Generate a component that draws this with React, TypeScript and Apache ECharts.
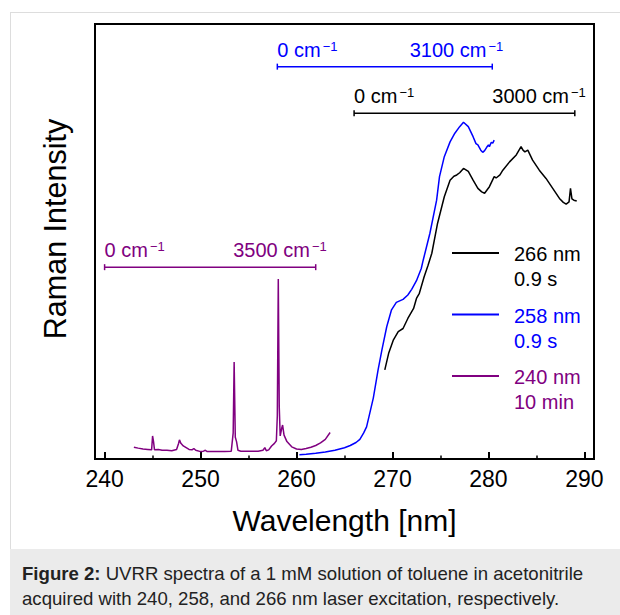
import React, { useEffect, useRef } from "react";
import * as echarts from "echarts";

// ---- data (wavelength nm, intensity arb. 0-100) ----
const spectrum240: number[][] = [
  [243.05, 2.7], [243.5, 2.5], [244.0, 2.3], [244.5, 2.2], [244.9, 2.1], [245.0, 5.3], [245.1, 4.0],
  [245.2, 2.1], [245.6, 2.2], [246.0, 2.0], [246.5, 2.0], [247.0, 1.9], [247.5, 2.2], [247.7, 3.5],
  [247.8, 4.4], [247.95, 3.6], [248.2, 3.0], [248.5, 2.6], [248.8, 2.2], [249.1, 2.1], [249.3, 2.4],
  [249.5, 2.0], [250.0, 1.7], [250.3, 1.8], [250.5, 2.0], [250.7, 1.7], [251.5, 1.7], [252.5, 1.7],
  [253.2, 1.8], [253.4, 6.0], [253.5, 22.3], [253.62, 5.0], [253.75, 4.0], [253.9, 2.0], [254.2, 1.8],
  [255.0, 1.8], [256.0, 1.8], [256.5, 2.0], [256.7, 2.6], [256.85, 1.9], [257.1, 2.1], [257.4, 3.0],
  [257.7, 3.6], [257.9, 4.2], [258.0, 10.0], [258.1, 41.4], [258.2, 12.0], [258.3, 5.3], [258.45, 7.0],
  [258.55, 7.8], [258.7, 5.5], [259.0, 4.0], [259.5, 2.8], [260.0, 2.3], [260.5, 2.2], [261.0, 2.4],
  [261.5, 2.7], [262.0, 3.1], [262.5, 3.7], [263.0, 4.5], [263.5, 6.1],
];

const spectrum258: number[][] = [
  [260.3, 1.0], [261.0, 1.1], [262.0, 1.3], [263.0, 1.6], [264.0, 2.0], [265.0, 2.6], [265.6, 3.1],
  [266.2, 3.8], [266.6, 4.5], [267.0, 6.0], [267.3, 7.4], [267.6, 10.2], [268.0, 14.0], [268.5, 20.5],
  [268.9, 25.1], [269.4, 30.4], [269.9, 34.3], [270.4, 36.0], [271.1, 36.7], [271.6, 37.7], [272.0, 39.0],
  [272.5, 41.0], [273.0, 43.8], [273.2, 45.7], [273.9, 51.9], [274.6, 59.5], [274.9, 64.9], [275.4, 69.5],
  [276.0, 72.9], [276.5, 74.9], [277.0, 76.4], [277.4, 77.4], [277.9, 76.4], [278.1, 75.5], [278.4, 74.1],
  [278.7, 72.5], [278.9, 72.2], [279.2, 71.0], [279.4, 70.5], [279.6, 70.9], [279.8, 71.6], [280.0, 72.2],
  [280.1, 71.8], [280.3, 72.8], [280.45, 72.6], [280.6, 73.3],
];

const spectrum266: number[][] = [
  [269.2, 20.5], [269.6, 24.3], [270.1, 27.4], [270.6, 29.3], [271.1, 30.0], [271.6, 32.3], [272.2, 34.6],
  [272.5, 36.9], [272.8, 38.1], [273.3, 41.9], [273.7, 44.5], [274.1, 47.3], [274.7, 54.2], [275.4, 60.3],
  [276.0, 64.1], [276.4, 65.0], [276.7, 65.3], [277.0, 65.8], [277.4, 66.8], [277.9, 66.1], [278.4, 64.1],
  [278.9, 62.2], [279.3, 61.4], [279.6, 61.1], [280.1, 62.6], [280.6, 64.9], [280.8, 64.6], [281.2, 65.3],
  [281.5, 66.4], [282.2, 68.3], [282.9, 69.9], [283.4, 71.8], [283.6, 71.0], [283.8, 70.6], [284.1, 71.0],
  [284.6, 68.7], [285.3, 66.4], [286.0, 64.5], [286.7, 62.2], [287.4, 59.9], [287.8, 59.0], [288.1, 58.6],
  [288.4, 59.1], [288.55, 62.2], [288.7, 59.8], [288.9, 59.5], [289.2, 59.3],
];

// Raman-shift range bars: start / end wavelength, level, end label
const rangeStart = [258.0, 266.0, 240.0];
const rangeEnd = [280.4, 289.0, 262.0];
const rangeLevel = [90.2, 79.5, 44.1];
const rangeEndLabel = ["3100", "3000", "3500"];
const rangeColor = ["#0000ff", "#000000", "#800080"];

const majorTicks = [240, 250, 260, 270, 280, 290];
const minorTicks = [245, 255, 265, 275, 285];

const legendNames = ["266 nm", "258 nm", "240 nm"];
const legendTimes = ["0.9 s", "0.9 s", "10 min"];
const legendColors = ["#000000", "#0000ff", "#800080"];

const FONT = "'Liberation Sans', Arial, Helvetica, sans-serif";

export default function App() {
  const ref = useRef<HTMLDivElement>(null);
  useEffect(() => {
    const chart = echarts.init(ref.current!, null, { renderer: "svg" });

    const rangeSeries = rangeStart.map((s, i) => {
      const c = rangeColor[i];
      const rich = {
        n: { fontSize: 20, color: c, fontFamily: FONT },
        s: { fontSize: 13, color: c, fontFamily: FONT, verticalAlign: "top", padding: [0, 0, 0, 2] },
      };
      return {
        type: "line",
        silent: true,
        animation: false,
        data: [
          {
            value: [s, rangeLevel[i]],
            label: {
              show: true, position: "top", align: "left", distance: 4,
              formatter: "{n|0 cm}{s|−1}", rich,
            },
          },
          {
            value: [rangeEnd[i], rangeLevel[i]],
            label: {
              show: true, position: "top", align: "right", distance: 4, offset: [11, 0],
              formatter: `{n|${rangeEndLabel[i]} cm}{s|−1}`, rich,
            },
          },
        ],
        symbol: "rect",
        symbolSize: [1.5, 6],
        showSymbol: true,
        itemStyle: { color: c, borderWidth: 0 },
        lineStyle: { color: c, width: 1.5 },
        z: 3,
      };
    });

    const graphics: any[] = [
      { type: "line", shape: { x1: 10.5, y1: 12, x2: 10.5, y2: 549 }, style: { stroke: "#dddddd", lineWidth: 1 }, silent: true },
      { type: "line", shape: { x1: 10, y1: 12.5, x2: 620, y2: 12.5 }, style: { stroke: "#dddddd", lineWidth: 1 }, silent: true },
      { type: "rect", shape: { x: 10, y: 549, width: 610, height: 66 }, style: { fill: "#ebebeb" }, silent: true },
      {
        type: "text", x: 22, y: 573, silent: true,
        style: {
          text: "{b|Figure 2:} UVRR spectra of a 1 mM solution of toluene in acetonitrile",
          fill: "#222222", font: `18.6px ${FONT}`, verticalAlign: "middle",
          rich: { b: { fontWeight: "bold", fontSize: 18.6, fontFamily: FONT, fill: "#222222" } },
        },
      },
      {
        type: "text", x: 22, y: 598, silent: true,
        style: { text: "acquired with 240, 258, and 266 nm laser excitation, respectively.", fill: "#222222", font: `18.6px ${FONT}`, verticalAlign: "middle" },
      },
      {
        type: "text", x: 55, y: 229, rotation: Math.PI / 2, silent: true,
        style: { text: "Raman Intensity", fill: "#000", font: `30.5px ${FONT}`, align: "center", verticalAlign: "middle" },
      },
    ];
    legendNames.forEach((n, i) => {
      const y0 = 253 + i * 61.5;
      graphics.push({ type: "line", shape: { x1: 452, y1: y0, x2: 499, y2: y0 }, style: { stroke: legendColors[i], lineWidth: 2 }, silent: true });
      graphics.push({ type: "text", x: 514, y: y0 + 1, silent: true, style: { text: n, fill: legendColors[i], font: `20px ${FONT}`, verticalAlign: "middle" } });
      graphics.push({ type: "text", x: 514, y: y0 + 26, silent: true, style: { text: legendTimes[i], fill: legendColors[i], font: `20px ${FONT}`, verticalAlign: "middle" } });
    });

    chart.setOption({
      animation: false,
      textStyle: { fontFamily: FONT },
      grid: { left: 95, right: 26, top: 24, bottom: 156, show: true, borderColor: "#000", borderWidth: 2, backgroundColor: "transparent" },
      xAxis: [
        {
          type: "value", min: 239, max: 291, position: "bottom",
          name: "Wavelength [nm]", nameLocation: "middle", nameGap: 46,
          nameTextStyle: { fontSize: 30, color: "#000", fontFamily: FONT },
          axisLine: { show: true, lineStyle: { color: "#000", width: 2 } },
          axisTick: { show: true, inside: true, length: 7, customValues: majorTicks, lineStyle: { color: "#000", width: 2 } },
          axisLabel: { show: true, customValues: majorTicks, fontSize: 23, color: "#000", margin: 8, fontFamily: FONT },
          splitLine: { show: false },
        },
        {
          type: "value", min: 239, max: 291, position: "bottom",
          axisLine: { show: false },
          axisTick: { show: true, inside: true, length: 3.5, customValues: minorTicks, lineStyle: { color: "#000", width: 1.5 } },
          axisLabel: { show: false },
          splitLine: { show: false },
        },
      ],
      yAxis: {
        type: "value", min: 0, max: 100,
        axisLine: { show: false }, axisTick: { show: false }, axisLabel: { show: false }, splitLine: { show: false },
      },
      series: [
        { type: "line", name: "240 nm", data: spectrum240, showSymbol: false, lineStyle: { color: "#800080", width: 1.5 }, itemStyle: { color: "#800080" }, silent: true, z: 2 },
        { type: "line", name: "258 nm", data: spectrum258, showSymbol: false, lineStyle: { color: "#0000ff", width: 1.5 }, itemStyle: { color: "#0000ff" }, silent: true, z: 2 },
        { type: "line", name: "266 nm", data: spectrum266, showSymbol: false, lineStyle: { color: "#000000", width: 1.5 }, itemStyle: { color: "#000000" }, silent: true, z: 2 },
        ...rangeSeries,
      ],
      graphic: graphics,
    });
    return () => chart.dispose();
  }, []);
  return <div ref={ref} style={{ position: "fixed", left: 0, top: 0, width: 620, height: 615, background: "#fff" }} />;
}
